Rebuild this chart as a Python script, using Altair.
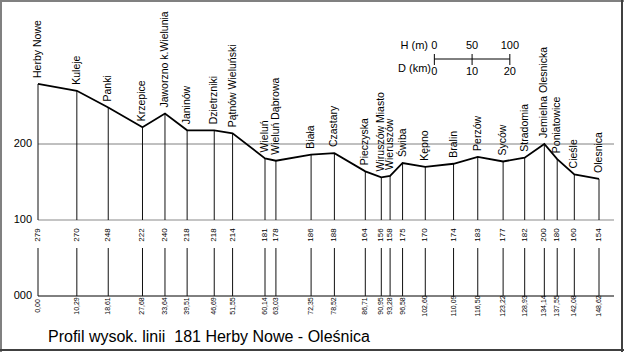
import altair as alt
import pandas as pd

# ---- data ----
stations = ["Herby Nowe", "Kuleje", "Panki", "Krzepice", "Jaworzno k.Wielunia",
            "Janinów", "Dzietrzniki", "Pątnów Wieluński", "Wieluń", "Wieluń Dąbrowa",
            "Biała", "Czastary", "Pieczyska", "Wiruszów Miasto", "Wieruszów",
            "Świba", "Kępno", "Bralin", "Perzów", "Syców", "Stradomia",
            "Jemielna Olesnicka", "Poniatowice", "Cieśle", "Olesnica"]
km = [0.00, 10.29, 18.61, 27.68, 33.64, 39.51, 46.69, 51.55, 60.14, 63.03,
      72.35, 78.52, 86.71, 90.95, 93.28, 96.58, 102.60, 110.09, 116.50, 123.22,
      128.93, 134.14, 137.55, 142.08, 148.62]
elev = [279, 270, 248, 222, 240, 218, 218, 214, 181, 178,
        186, 188, 164, 156, 158, 175, 170, 174, 183, 177,
        182, 200, 180, 160, 154]
km_text = [f"{k:.2f}".replace(".", ",") for k in km]

axis_values = [200, 100, 0]
axis_labels = ["200", "100", "000"]

bar_km_offsets = [0, 10, 20]
bar_h_labels = ["0", "50", "100"]
bar_d_labels = ["0", "10", "20"]
BAR_ORIGIN_KM = 105

title_text = "Profil wysok. linii\u00a0 181 Herby Nowe - Oleśnica"

FONT = "Liberation Sans"

df = pd.DataFrame({"name": stations, "km": km, "elev": elev, "km_text": km_text})
axis_df = pd.DataFrame({"v": axis_values, "lab": axis_labels})
bar_df = pd.DataFrame({"km": [BAR_ORIGIN_KM + o for o in bar_km_offsets],
                       "h": bar_h_labels, "d": bar_d_labels})
one = pd.DataFrame({"a": [0]})

XS = alt.Scale(domain=[0, 148.62], range=[38, 599], nice=False, zero=False)
YS = alt.Scale(domain=[0, 200], range=[296, 144], nice=False, zero=False)

X = alt.X("km:Q", scale=XS, axis=None)
Y = alt.Y("elev:Q", scale=YS, axis=None)

# horizontal reference lines
grid200 = alt.Chart(axis_df).transform_filter("datum.v == 200").mark_rule(
    color="#808080", strokeWidth=1).encode(
    y=alt.Y("v:Q", scale=YS, axis=None), x=alt.value(38), x2=alt.value(614))
grid100 = alt.Chart(axis_df).transform_filter("datum.v == 100").mark_rule(
    color="#c4c4c4", strokeWidth=2).encode(
    y=alt.Y("v:Q", scale=YS, axis=None), x=alt.value(38), x2=alt.value(614))
grid0 = alt.Chart(axis_df).transform_filter("datum.v == 0").mark_rule(
    color="#000000", strokeWidth=1).encode(
    y=alt.Y("v:Q", scale=YS, axis=None), x=alt.value(38), x2=alt.value(614))

axis_text = alt.Chart(axis_df).mark_text(
    align="right", baseline="middle", fontSize=11, font=FONT, color="#000").encode(
    y=alt.Y("v:Q", scale=YS, axis=None), x=alt.value(32), text="lab:N")

drops = alt.Chart(df).mark_rule(color="#111", strokeWidth=1).encode(
    x=X, y=Y, y2=alt.datum(100))

lower_ticks = alt.Chart(df).mark_rule(color="#111", strokeWidth=1).encode(
    x=X, y=alt.value(248), y2=alt.value(296))

profile = alt.Chart(df).mark_line(color="#000", strokeWidth=1.8).encode(
    x=X, y=Y, order="km:Q")

names = alt.Chart(df).mark_text(
    angle=270, align="left", baseline="middle", dx=6, fontSize=10.5,
    font=FONT, color="#000").encode(x=X, y=Y, text="name:N")

elev_text = alt.Chart(df).mark_text(
    angle=270, align="center", baseline="middle", fontSize=8,
    font=FONT, color="#000").encode(x=X, y=alt.value(235), text="elev:Q")

km_labels = alt.Chart(df).mark_text(
    angle=270, align="center", baseline="middle", fontSize=7,
    font=FONT, color="#000").encode(x=X, y=alt.value(306), text="km_text:N")

# scale bar
bar_line = alt.Chart(bar_df).mark_rule(color="#000", strokeWidth=1).encode(
    x=alt.X("min(km):Q", scale=XS, axis=None),
    x2=alt.X2("max(km):Q"), y=alt.value(59))
bar_ticks = alt.Chart(bar_df).mark_rule(color="#000", strokeWidth=1).encode(
    x=alt.X("km:Q", scale=XS, axis=None), y=alt.value(54), y2=alt.value(65))
bar_h = alt.Chart(bar_df).mark_text(
    align="center", baseline="middle", fontSize=11, font=FONT, color="#000").encode(
    x=alt.X("km:Q", scale=XS, axis=None), y=alt.value(46), text="h:N")
bar_d = alt.Chart(bar_df).mark_text(
    align="center", baseline="middle", fontSize=11, font=FONT, color="#000").encode(
    x=alt.X("km:Q", scale=XS, axis=None), y=alt.value(72), text="d:N")
h_title = alt.Chart(one).mark_text(
    align="right", baseline="middle", fontSize=11, font=FONT, color="#000",
    text="H (m)").encode(x=alt.value(428), y=alt.value(46))
d_title = alt.Chart(one).mark_text(
    align="right", baseline="middle", fontSize=11, font=FONT, color="#000",
    text="D (km)").encode(x=alt.value(431), y=alt.value(69))

title = alt.Chart(one).mark_text(
    align="left", baseline="middle", fontSize=16, font=FONT, color="#000",
    text=title_text).encode(x=alt.value(48), y=alt.value(337))

# frame
top = alt.Chart(one).mark_rule(color="#808080", strokeWidth=2).encode(
    x=alt.value(0), x2=alt.value(624), y=alt.value(1))
left = alt.Chart(one).mark_rule(color="#808080", strokeWidth=2).encode(
    x=alt.value(1), y=alt.value(0), y2=alt.value(352))
bottom = alt.Chart(one).mark_rule(color="#404040", strokeWidth=2).encode(
    x=alt.value(0), x2=alt.value(624), y=alt.value(350))
right = alt.Chart(one).mark_rule(color="#404040", strokeWidth=2).encode(
    x=alt.value(622), y=alt.value(0), y2=alt.value(352))

chart = alt.layer(
    grid200, grid100, grid0, drops, lower_ticks, profile, axis_text, names,
    elev_text, km_labels, bar_line, bar_ticks, bar_h, bar_d, h_title, d_title,
    title, top, left, bottom, right
).properties(
    width=624, height=352, padding=0, autosize="none", background="white"
).configure_view(stroke=None)

chart.save("out.html", embed_options={"renderer": "svg", "actions": False})
